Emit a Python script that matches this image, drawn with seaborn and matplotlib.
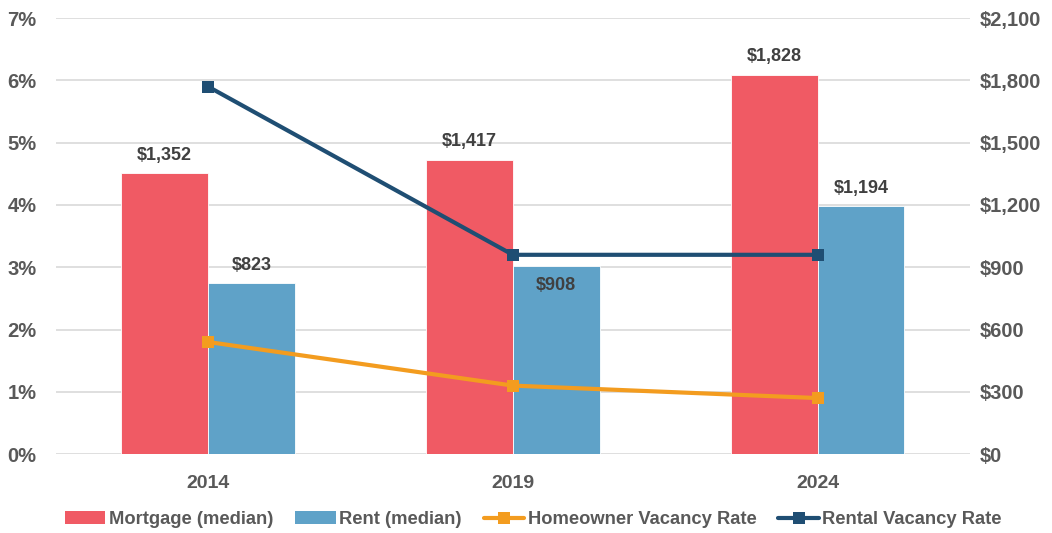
import numpy as np
import pandas as pd
import matplotlib
matplotlib.use("Agg")
import matplotlib.pyplot as plt
import seaborn as sns
from matplotlib.patches import Patch
from matplotlib.lines import Line2D
from matplotlib.ticker import FuncFormatter, MultipleLocator

years = ["2014", "2019", "2024"]
mortgage = [1352, 1417, 1828]
rent = [823, 908, 1194]
homeowner_vacancy = [1.8, 1.1, 0.9]
rental_vacancy = [5.9, 3.2, 3.2]
series_names = ["Mortgage (median)", "Rent (median)", "Homeowner Vacancy Rate", "Rental Vacancy Rate"]

c_mort = "#F05A64"
c_rent = "#5FA2C8"
c_home = "#F39C1F"
c_rental = "#1F4E73"
txt = "#595959"

sns.set_style("white")
plt.rcParams["font.family"] = ["Liberation Sans", "DejaVu Sans"]
plt.rcParams["font.weight"] = "bold"

df = pd.DataFrame({
    "year": years * 2,
    "series": [series_names[0]] * 3 + [series_names[1]] * 3,
    "value": mortgage + rent,
})

fig = plt.figure(figsize=(10.52, 5.33), dpi=100)
ax = fig.add_axes([0.053, 0.148, 0.869, 0.818])

sns.barplot(data=df, x="year", y="value", hue="series", order=years,
            hue_order=series_names[:2], palette=[c_mort, c_rent],
            width=0.57, saturation=1, legend=False, ax=ax,
            edgecolor="white", linewidth=0.6)
ax.set_ylim(0, 2100)
ax.yaxis.set_major_locator(MultipleLocator(300))
ax.yaxis.set_major_formatter(FuncFormatter(lambda v, p: f"${v:,.0f}"))
ax.set_xlabel("")
ax.set_ylabel("")
ax.grid(axis="y", color="#D9D9D9", linewidth=1.2)
ax.set_axisbelow(True)
for s in ax.spines.values():
    s.set_visible(False)

# bar labels
for ci, cont in enumerate(ax.containers):
    vals = mortgage if ci == 0 else rent
    for bar, v in zip(cont, vals):
        xc = bar.get_x() + bar.get_width() / 2
        h = bar.get_height()
        inside = (ci == 1 and v == 908)
        ax.annotate(f"${v:,}", (xc, h), xytext=(0, -8 if inside else 7),
                    textcoords="offset points", ha="center",
                    va="top" if inside else "bottom",
                    fontsize=13, fontweight="bold", color="#404040")

ax2 = ax.twinx()
idx = np.arange(len(years))
sns.lineplot(x=idx, y=homeowner_vacancy, ax=ax2, color=c_home, linewidth=3,
             marker="s", markersize=8, markeredgewidth=0)
sns.lineplot(x=idx, y=rental_vacancy, ax=ax2, color=c_rental, linewidth=3,
             marker="s", markersize=8, markeredgewidth=0)
ax2.set_ylim(0, 7)
ax2.yaxis.set_major_locator(MultipleLocator(1))
ax2.yaxis.set_major_formatter(FuncFormatter(lambda v, p: f"{v:.0f}%"))
ax2.set_ylabel("")
for s in ax2.spines.values():
    s.set_visible(False)
ax.set_xlim(-0.5, 2.5)
ax2.set_xlim(-0.5, 2.5)

# axis sides: money on right (bars axis), percent on left (lines axis)
ax.tick_params(axis="y", left=False, labelleft=False, right=False, labelright=True)
ax2.tick_params(axis="y", left=False, labelleft=True, right=False, labelright=False)
ax.tick_params(axis="y", length=0, labelsize=14.5, labelcolor=txt, pad=7)
ax.tick_params(axis="x", length=0, labelsize=14, labelcolor=txt, pad=15)
ax2.tick_params(axis="y", length=0, labelsize=14.5, labelcolor=txt, pad=14)

handles = [
    Patch(facecolor=c_mort, edgecolor="none"),
    Patch(facecolor=c_rent, edgecolor="none"),
    Line2D([], [], color=c_home, linewidth=3, marker="s", markersize=8, markeredgewidth=0),
    Line2D([], [], color=c_rental, linewidth=3, marker="s", markersize=8, markeredgewidth=0),
]
leg = fig.legend(handles, series_names, loc="center", bbox_to_anchor=(0.507, 0.025),
                 ncol=4, frameon=False, fontsize=13.2, handlelength=2.2,
                 handletextpad=0.2, columnspacing=1.2)
for t in leg.get_texts():
    t.set_color(txt)
    t.set_fontweight("bold")

fig.savefig("out.png", dpi=100)
